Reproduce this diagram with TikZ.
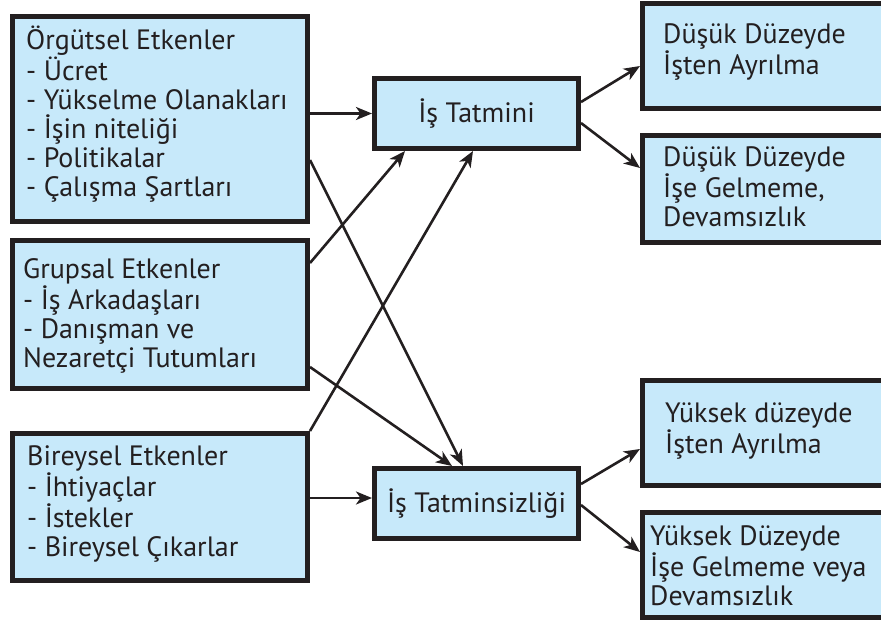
\documentclass[tikz,border=0pt]{standalone}
\usepackage{fontspec}
\setmainfont{PT Sans}
\usetikzlibrary{arrows.meta,calc}
\definecolor{boxfill}{RGB}{199,233,250}
\definecolor{ink}{RGB}{35,31,32}
\begin{document}
\begin{tikzpicture}[x=1pt,y=-1pt,
  box/.style={draw=ink, line width=5pt, fill=boxfill, inner sep=0pt, text=ink,
    font=\fontsize{28}{29}\selectfont},
  txt/.style={text=ink, align=left, inner sep=0pt, anchor=west,
    font=\fontsize{28}{29}\selectfont},
  arr/.style={draw=ink, line width=2.6pt, -{Stealth[length=16pt,width=13pt,inset=4.5pt]}}]
\useasboundingbox (0,0) rectangle (881,626);
\clip (0,0) rectangle (881,626);
% left boxes
\node[box, minimum width=295pt, minimum height=205pt] (b1) at (160,119) {};
\node[box, minimum width=295pt, minimum height=148pt] (b2) at (160,314.5) {};
\node[box, minimum width=295pt, minimum height=147pt] (b3) at (160,507) {};
% middle boxes
\node[box, minimum width=204pt, minimum height=70pt] (t1) at (476.5,113.5) {İş Tatmini};
\node[box, minimum width=204pt, minimum height=70pt] (t2) at (476.5,503.5) {İş Tatminsizliği};
% right boxes
\node[box, minimum width=260pt, minimum height=105pt] (r1) at (772.5,56) {};
\node[box, minimum width=260pt, minimum height=107pt] (r2) at (772.5,189) {};
\node[box, minimum width=260pt, minimum height=105pt] (y1) at (772.5,433) {};
\node[box, minimum width=260pt, minimum height=105pt] (y2) at (772.5,565) {};
% texts
\node[txt] (b1t) at (26,114) {Örgütsel Etkenler\\- Ücret\\- Yükselme Olanakları\\- İşin niteliği\\- Politikalar\\- Çalışma Şartları};
\node[txt] (b2t) at (23,316) {Grupsal Etkenler\\- İş Arkadaşları\\- Danışman ve\\Nezaretçi Tutumları};
\node[txt] (b3t) at (27,504) {Bireysel Etkenler\\- İhtiyaçlar\\- İstekler\\- Bireysel Çıkarlar};
\node[txt] (r1t) at (663,52) {Düşük Düzeyde\\İşten Ayrılma};
\node[txt] (r2t) at (663,187) {Düşük Düzeyde\\İşe Gelmeme,\\Devamsızlık};
\node[txt] (y1t) at (665,431) {Yüksek düzeyde\\İşten Ayrılma};
\node[txt] (y2t) at (650,566) {Yüksek Düzeyde\\İşe Gelmeme veya\\Devamsızlık};
% connectors
\draw[arr] (b1.east |- t1.west) -- (t1.west);
\draw[arr] (b1.east |- 0,160) -- (t2.north -| 463,0);
\draw[arr] (b2.east |- 0,263) -- (t1.south -| 405,0);
\draw[arr] (b2.east |- 0,367) -- (t2.north -| 452,0);
\draw[arr] (b3.north east) -- (t1.south -| 473,0);
\draw[arr] (b3.east |- 0,498) -- (t2.west |- 0,498);
\draw[arr] (t1.east |- 0,102) -- (r1.west |- 0,66);
\draw[arr] (t1.east |- 0,123) -- (r2.west |- 0,168);
\draw[arr] (t2.east |- 0,484) -- (y1.west |- 0,449);
\draw[arr] (t2.east |- 0,505) -- (y2.west |- 0,552);
\end{tikzpicture}
\end{document}
